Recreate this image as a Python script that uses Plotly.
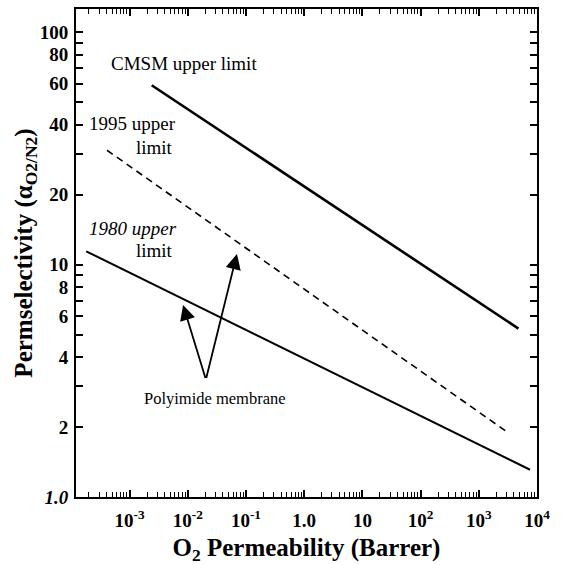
import numpy as np
import plotly.graph_objects as go

# ---- data ----
cmsm_x = [2.4e-3, 4.8e3]
cmsm_y = [59.0, 5.3]
l1995_x = [4.1e-4, 3.1e3]
l1995_y = [31.0, 1.9]
l1980_x = [1.8e-4, 7.6e3]
l1980_y = [11.4, 1.31]
# Polyimide membrane arrows: common tail, two heads
arrow_tail = (0.0205, 3.2)
arrow_heads_x = [0.0083, 0.070]
arrow_heads_y = [6.7, 11.1]

x_tickvals = [1e-3, 1e-2, 1e-1, 1, 10, 1e2, 1e3, 1e4]
x_ticktext = ["10<sup>-3</sup>", "10<sup>-2</sup>", "10<sup>-1</sup>", "1.0", "10",
              "10<sup>2</sup>", "10<sup>3</sup>", "10<sup>4</sup>"]
y_tickvals = [1, 2, 4, 6, 8, 10, 20, 40, 60, 80, 100]
y_ticktext = ["<i>1.0</i>", "2", "4", "6", "8", "10", "20", "40", "60", "80", "100"]

FONT = "Liberation Serif"

x_minor = [m * 10.0 ** e for e in range(-4, 4) for m in range(2, 10)]
y_minor = [m * 10.0 ** e for e in range(0, 3) for m in range(1, 10)]
y_minor = [v for v in y_minor if v not in y_tickvals]

fig = go.Figure()
fig.add_trace(go.Scatter(x=cmsm_x, y=cmsm_y, mode="lines",
                         line=dict(color="black", width=2.6), showlegend=False))
fig.add_trace(go.Scatter(x=l1995_x, y=l1995_y, mode="lines",
                         line=dict(color="black", width=1.6, dash="7px,5px"), showlegend=False))
fig.add_trace(go.Scatter(x=l1980_x, y=l1980_y, mode="lines",
                         line=dict(color="black", width=2.0), showlegend=False))

annotations = []
for hx, hy in zip(arrow_heads_x, arrow_heads_y):
    annotations.append(dict(
        x=np.log10(hx), y=np.log10(hy), xref="x", yref="y",
        ax=np.log10(arrow_tail[0]), ay=np.log10(arrow_tail[1]), axref="x", ayref="y",
        showarrow=True, arrowhead=2, arrowsize=1.7, arrowwidth=1.8, arrowcolor="black",
        text=""))

def label(text, px, py, size=19, italic=False):
    t = f"<i>{text}</i>" if italic else text
    annotations.append(dict(text=t, x=px, y=py, xref="paper", yref="paper",
                            showarrow=False, xanchor="center", yanchor="middle",
                            font=dict(family=FONT, size=size, color="black")))

label("CMSM upper limit", 0.235, 0.888)
label("1995 upper", 0.123, 0.765)
label("limit", 0.171, 0.716)
label("1980 upper", 0.123, 0.550, italic=True)
label("limit", 0.171, 0.505)
label("Polyimide membrane", 0.302, 0.202, size=16.5)

fig.update_layout(
    width=566, height=565,
    margin=dict(l=76, r=29, t=7, b=68),
    paper_bgcolor="white", plot_bgcolor="white",
    font=dict(family=FONT, color="black"),
    annotations=annotations,
    xaxis=dict(
        type="log", range=[-3.92, 4.0],
        tickmode="array", tickvals=x_tickvals, ticktext=x_ticktext,
        ticks="inside", ticklen=7, tickwidth=1.5, tickcolor="black",
        minor=dict(tickmode="array", tickvals=x_minor, ticks="inside",
                   ticklen=5, tickwidth=1.2, tickcolor="black"),
        showline=True, linecolor="black", linewidth=2, mirror="allticks",
        showgrid=False, zeroline=False,
        tickfont=dict(family=FONT, size=19, color="black", weight="bold"),
        ticklabelstandoff=5,
        title=dict(text="<b>O<sub>2</sub> Permeability (Barrer)</b>",
                   font=dict(family=FONT, size=25, color="black"), standoff=9),
    ),
    yaxis=dict(
        type="log", range=[0, 2.099],
        tickmode="array", tickvals=y_tickvals, ticktext=y_ticktext,
        ticks="inside", ticklen=7, tickwidth=1.5, tickcolor="black",
        minor=dict(tickmode="array", tickvals=y_minor, ticks="inside",
                   ticklen=7, tickwidth=1.5, tickcolor="black"),
        showline=True, linecolor="black", linewidth=2, mirror="allticks",
        showgrid=False, zeroline=False,
        tickfont=dict(family=FONT, size=19, color="black", weight="bold"),
        ticklabelstandoff=2,
        title=dict(text="<b>Permselectivity (α<sub>O2/N2</sub>)</b>",
                   font=dict(family=FONT, size=25, color="black"), standoff=0),
    ),
)

fig.write_html("out.html")
